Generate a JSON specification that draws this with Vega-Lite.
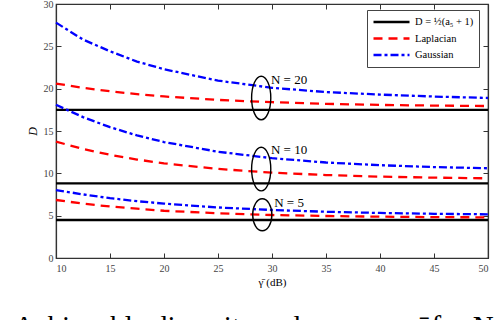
{
  "$schema": "https://vega.github.io/schema/vega-lite/v6.json",
  "width": 432,
  "height": 254,
  "autosize": "none",
  "padding": {"left": 56, "top": 4, "right": 8, "bottom": 62},
  "background": "white",
  "title": {
    "text": ": Achievable diversity order versus γ̄ for N",
    "orient": "bottom",
    "anchor": "start",
    "frame": "group",
    "dx": -56,
    "offset": 26,
    "font": "Liberation Serif",
    "fontSize": 29,
    "fontWeight": "normal",
    "color": "black"
  },
  "config": {
    "view": {"stroke": "#333", "strokeWidth": 1.2},
    "axis": {
      "labelFont": "Liberation Serif",
      "labelFontSize": 10,
      "labelColor": "#444",
      "titleFont": "Liberation Serif",
      "titleFontWeight": "normal",
      "titleColor": "black",
      "domainColor": "#333",
      "domainWidth": 1.2,
      "tickColor": "#333",
      "tickSize": -5,
      "grid": false
    }
  },
  "datasets": {
    "curves": [
      {"snr": 10, "D": 17.5, "series": "D = ½(a₅ + 1)", "N": 20},
      {"snr": 50, "D": 17.5, "series": "D = ½(a₅ + 1)", "N": 20},
      {"snr": 10, "D": 8.82, "series": "D = ½(a₅ + 1)", "N": 10},
      {"snr": 50, "D": 8.82, "series": "D = ½(a₅ + 1)", "N": 10},
      {"snr": 10, "D": 4.49, "series": "D = ½(a₅ + 1)", "N": 5},
      {"snr": 50, "D": 4.49, "series": "D = ½(a₅ + 1)", "N": 5},

      {"snr": 10, "D": 20.6, "series": "Laplacian", "N": 20},
      {"snr": 12.5, "D": 20.1, "series": "Laplacian", "N": 20},
      {"snr": 15, "D": 19.69, "series": "Laplacian", "N": 20},
      {"snr": 17.5, "D": 19.35, "series": "Laplacian", "N": 20},
      {"snr": 20, "D": 19.08, "series": "Laplacian", "N": 20},
      {"snr": 25, "D": 18.67, "series": "Laplacian", "N": 20},
      {"snr": 30, "D": 18.4, "series": "Laplacian", "N": 20},
      {"snr": 35, "D": 18.21, "series": "Laplacian", "N": 20},
      {"snr": 40, "D": 18.08, "series": "Laplacian", "N": 20},
      {"snr": 45, "D": 18.0, "series": "Laplacian", "N": 20},
      {"snr": 50, "D": 17.95, "series": "Laplacian", "N": 20},

      {"snr": 10, "D": 13.74, "series": "Laplacian", "N": 10},
      {"snr": 12.5, "D": 12.88, "series": "Laplacian", "N": 10},
      {"snr": 15, "D": 12.19, "series": "Laplacian", "N": 10},
      {"snr": 17.5, "D": 11.63, "series": "Laplacian", "N": 10},
      {"snr": 20, "D": 11.18, "series": "Laplacian", "N": 10},
      {"snr": 25, "D": 10.52, "series": "Laplacian", "N": 10},
      {"snr": 30, "D": 10.08, "series": "Laplacian", "N": 10},
      {"snr": 35, "D": 9.8, "series": "Laplacian", "N": 10},
      {"snr": 40, "D": 9.61, "series": "Laplacian", "N": 10},
      {"snr": 45, "D": 9.49, "series": "Laplacian", "N": 10},
      {"snr": 50, "D": 9.41, "series": "Laplacian", "N": 10},

      {"snr": 10, "D": 6.85, "series": "Laplacian", "N": 5},
      {"snr": 12.5, "D": 6.42, "series": "Laplacian", "N": 5},
      {"snr": 15, "D": 6.08, "series": "Laplacian", "N": 5},
      {"snr": 17.5, "D": 5.82, "series": "Laplacian", "N": 5},
      {"snr": 20, "D": 5.58, "series": "Laplacian", "N": 5},
      {"snr": 25, "D": 5.28, "series": "Laplacian", "N": 5},
      {"snr": 30, "D": 5.08, "series": "Laplacian", "N": 5},
      {"snr": 35, "D": 4.96, "series": "Laplacian", "N": 5},
      {"snr": 40, "D": 4.88, "series": "Laplacian", "N": 5},
      {"snr": 45, "D": 4.83, "series": "Laplacian", "N": 5},
      {"snr": 50, "D": 4.8, "series": "Laplacian", "N": 5},

      {"snr": 10, "D": 27.8, "series": "Gaussian", "N": 20},
      {"snr": 12.5, "D": 25.8, "series": "Gaussian", "N": 20},
      {"snr": 15, "D": 24.42, "series": "Gaussian", "N": 20},
      {"snr": 17.5, "D": 23.2, "series": "Gaussian", "N": 20},
      {"snr": 20, "D": 22.3, "series": "Gaussian", "N": 20},
      {"snr": 25, "D": 20.95, "series": "Gaussian", "N": 20},
      {"snr": 30, "D": 20.1, "series": "Gaussian", "N": 20},
      {"snr": 35, "D": 19.6, "series": "Gaussian", "N": 20},
      {"snr": 40, "D": 19.3, "series": "Gaussian", "N": 20},
      {"snr": 45, "D": 19.07, "series": "Gaussian", "N": 20},
      {"snr": 50, "D": 18.9, "series": "Gaussian", "N": 20},

      {"snr": 10, "D": 18.1, "series": "Gaussian", "N": 10},
      {"snr": 12.5, "D": 16.64, "series": "Gaussian", "N": 10},
      {"snr": 15, "D": 15.45, "series": "Gaussian", "N": 10},
      {"snr": 17.5, "D": 14.48, "series": "Gaussian", "N": 10},
      {"snr": 20, "D": 13.7, "series": "Gaussian", "N": 10},
      {"snr": 25, "D": 12.55, "series": "Gaussian", "N": 10},
      {"snr": 30, "D": 11.79, "series": "Gaussian", "N": 10},
      {"snr": 35, "D": 11.28, "series": "Gaussian", "N": 10},
      {"snr": 40, "D": 10.96, "series": "Gaussian", "N": 10},
      {"snr": 45, "D": 10.74, "series": "Gaussian", "N": 10},
      {"snr": 50, "D": 10.6, "series": "Gaussian", "N": 10},

      {"snr": 10, "D": 8.03, "series": "Gaussian", "N": 5},
      {"snr": 12.5, "D": 7.51, "series": "Gaussian", "N": 5},
      {"snr": 15, "D": 7.07, "series": "Gaussian", "N": 5},
      {"snr": 17.5, "D": 6.71, "series": "Gaussian", "N": 5},
      {"snr": 20, "D": 6.42, "series": "Gaussian", "N": 5},
      {"snr": 25, "D": 5.97, "series": "Gaussian", "N": 5},
      {"snr": 30, "D": 5.67, "series": "Gaussian", "N": 5},
      {"snr": 35, "D": 5.46, "series": "Gaussian", "N": 5},
      {"snr": 40, "D": 5.32, "series": "Gaussian", "N": 5},
      {"snr": 45, "D": 5.22, "series": "Gaussian", "N": 5},
      {"snr": 50, "D": 5.16, "series": "Gaussian", "N": 5}
    ],
    "ellipses": [
      {"snr": 29.0, "D": 18.9, "N": 20},
      {"snr": 29.0, "D": 10.5, "N": 10},
      {"snr": 29.1, "D": 5.1, "N": 5}
    ],
    "labels": [
      {"snr": 29.9, "D": 21.08, "label": "N = 20"},
      {"snr": 29.9, "D": 12.76, "label": "N = 10"},
      {"snr": 30.2, "D": 6.55, "label": "N = 5"}
    ]
  },
  "layer": [
    {
      "data": {"name": "curves"},
      "mark": {"type": "line", "strokeWidth": 2.3},
      "encoding": {
        "x": {
          "field": "snr", "type": "quantitative",
          "scale": {"domain": [10, 50], "nice": false},
          "axis": {"values": [10, 15, 20, 25, 30, 35, 40, 45, 50], "title": "γ̄ (dB)", "titleFontSize": 11, "titlePadding": 3, "labelPadding": 10}
        },
        "y": {
          "field": "D", "type": "quantitative",
          "scale": {"domain": [0, 30], "nice": false},
          "axis": {"values": [0, 5, 10, 15, 20, 25, 30], "title": "D", "titleFontStyle": "italic", "titleFontSize": 12, "titlePadding": 4, "labelPadding": 8}
        },
        "detail": {"field": "N"},
        "color": {
          "field": "series", "type": "nominal",
          "scale": {"domain": ["D = ½(a₅ + 1)", "Laplacian", "Gaussian"], "range": ["#000000", "#ff0000", "#0000ff"]},
          "legend": {
            "title": null, "orient": "none", "legendX": 311, "legendY": 6,
            "symbolType": "stroke", "symbolSize": 1296, "symbolStrokeWidth": 2.5,
            "clipHeight": 14, "rowPadding": 2.5,
            "labelFont": "Liberation Serif", "labelFontSize": 10.5, "labelColor": "black", "labelOffset": 4,
            "strokeColor": "#444", "fillColor": "white", "padding": 5
          }
        },
        "strokeDash": {
          "field": "series", "type": "nominal",
          "scale": {"domain": ["D = ½(a₅ + 1)", "Laplacian", "Gaussian"], "range": [[1, 0], [9, 6], [8, 3, 3, 3]]},
          "legend": null
        }
      }
    },
    {
      "data": {"name": "ellipses"},
      "transform": [{"filter": "datum.N != 5"}],
      "mark": {"type": "point", "filled": false, "stroke": "black", "strokeWidth": 1.4, "opacity": 1, "size": 1900,
               "shape": "M0,-1A0.44,1,0,1,1,0,1A0.44,1,0,1,1,0,-1Z"},
      "encoding": {
        "x": {"field": "snr", "type": "quantitative", "axis": null},
        "y": {"field": "D", "type": "quantitative", "axis": null}
      }
    },
    {
      "data": {"name": "ellipses"},
      "transform": [{"filter": "datum.N == 5"}],
      "mark": {"type": "point", "filled": false, "stroke": "black", "strokeWidth": 1.4, "opacity": 1, "size": 1024,
               "shape": "M0,-1A0.6,1,0,1,1,0,1A0.6,1,0,1,1,0,-1Z"},
      "encoding": {
        "x": {"field": "snr", "type": "quantitative", "axis": null},
        "y": {"field": "D", "type": "quantitative", "axis": null}
      }
    },
    {
      "data": {"name": "labels"},
      "mark": {"type": "text", "align": "left", "baseline": "middle", "font": "Liberation Serif", "fontSize": 13, "color": "black"},
      "encoding": {
        "x": {"field": "snr", "type": "quantitative", "axis": {"orient": "top", "labels": false, "title": null, "values": [10, 15, 20, 25, 30, 35, 40, 45, 50]}},
        "y": {"field": "D", "type": "quantitative", "axis": {"orient": "right", "labels": false, "title": null, "values": [0, 5, 10, 15, 20, 25, 30]}},
        "text": {"field": "label"}
      }
    }
  ],
  "resolve": {"axis": {"x": "independent", "y": "independent"}}
}
